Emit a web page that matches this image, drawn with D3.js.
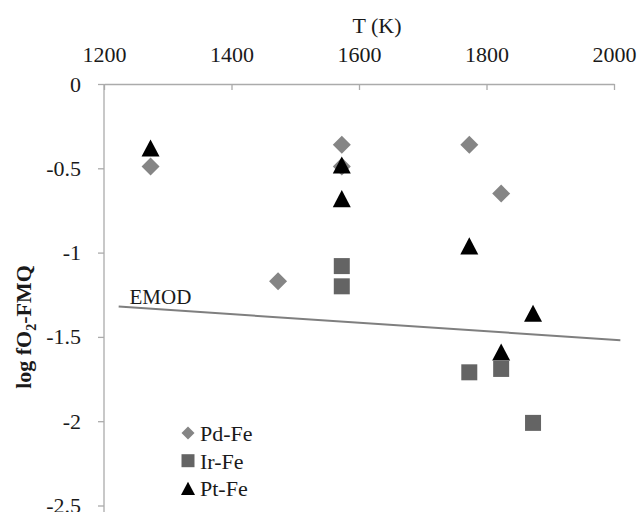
<!DOCTYPE html>
<html>
<head>
<meta charset="utf-8">
<script src="https://cdn.jsdelivr.net/npm/d3@7"></script>
<style>
  body { margin: 0; background: #fff; }
</style>
</head>
<body>
<div class="chart"></div>
<script>
// data
var pdT = [1273, 1573, 1573, 1473, 1773, 1823];
var pdY = [-0.49, -0.36, -0.49, -1.17, -0.36, -0.65];
var irT = [1573, 1573, 1773, 1823, 1873];
var irY = [-1.08, -1.2, -1.71, -1.69, -2.01];
var ptT = [1273, 1573, 1573, 1773, 1823, 1873];
var ptY = [-0.38, -0.48, -0.68, -0.96, -1.59, -1.36];
var emodT = [1223, 2010];
var emodY = [-1.32, -1.52];
var xTicks = [1200, 1400, 1600, 1800, 2000];
var yTicks = [0, -0.5, -1, -1.5, -2, -2.5];
var seriesNames = ["Pd-Fe", "Ir-Fe", "Pt-Fe"];

var svgWidth = 640;
var svgHeight = 512;
var serif = "'Liberation Serif', 'DejaVu Serif', 'Noto Serif', 'Times New Roman', serif";

var svg = d3.select(".chart")
  .append("svg")
  .attr("width", svgWidth)
  .attr("height", svgHeight)
  .attr("font-family", serif);

var xScale = d3.scaleLinear().domain([1200, 2000]).range([104, 614]);
var yScale = d3.scaleLinear().domain([0, -2.5]).range([84, 505.5]);

// marker shapes, size = half width
var diamond = { draw: function(c, r) { c.moveTo(0, -r); c.lineTo(r, 0); c.lineTo(0, r); c.lineTo(-r, 0); c.closePath(); } };
var square = { draw: function(c, r) { c.rect(-r, -r, 2 * r, 2 * r); } };
var triangle = { draw: function(c, r) { c.moveTo(0, -r * 0.95); c.lineTo(r, r * 0.95); c.lineTo(-r, r * 0.95); c.closePath(); } };

var series = [
  { name: seriesNames[0], t: pdT, y: pdY, type: diamond, size: 9, legSize: 6.5, color: "#858585" },
  { name: seriesNames[1], t: irT, y: irY, type: square, size: 8, legSize: 6.5, color: "#646464" },
  { name: seriesNames[2], t: ptT, y: ptY, type: triangle, size: 9, legSize: 7, color: "#000000" }
];

// axes
var xAxis = d3.axisTop(xScale)
  .tickValues(xTicks)
  .tickSizeInner(-6)
  .tickSizeOuter(0)
  .tickPadding(22)
  .tickFormat(d => String(d));

var yAxis = d3.axisLeft(yScale)
  .tickValues(yTicks)
  .tickSizeInner(6)
  .tickSizeOuter(0)
  .tickPadding(17)
  .tickFormat(d => String(d));

var gx = svg.append("g").attr("transform", "translate(0, 84)").call(xAxis);
var gy = svg.append("g").attr("transform", "translate(104, 0)").call(yAxis);

[gx, gy].forEach(function(g) {
  g.attr("font-family", serif).attr("font-size", 22);
  g.selectAll("path, line").attr("stroke", "#ababab").attr("stroke-width", 1.3);
  g.selectAll("text").attr("fill", "#1a1a1a");
});
gy.select(".domain").attr("d", "M0,84V512");

// EMOD line
var line = d3.line().x(d => xScale(d[0])).y(d => yScale(d[1]));
svg.append("path")
  .datum(d3.zip(emodT, emodY))
  .attr("d", line)
  .attr("fill", "none")
  .attr("stroke", "#7f7f7f")
  .attr("stroke-width", 2);

svg.append("text")
  .attr("x", xScale(1240))
  .attr("y", yScale(-1.305))
  .attr("font-size", 21)
  .attr("fill", "#1a1a1a")
  .text("EMOD");

// points
series.forEach(function(s) {
  var pts = d3.zip(s.t, s.y);
  svg.append("g").selectAll("path")
    .data(pts)
    .enter()
    .append("path")
    .attr("transform", d => `translate(${xScale(d[0])}, ${yScale(d[1])})`)
    .attr("d", d3.symbol().type(s.type).size(s.size))
    .attr("fill", s.color);
});

// legend
var legend = svg.append("g").attr("transform", "translate(188, 433)");
series.forEach(function(s, i) {
  legend.append("path")
    .attr("transform", `translate(0, ${i * 27.7})`)
    .attr("d", d3.symbol().type(s.type).size(s.legSize))
    .attr("fill", s.color);
  legend.append("text")
    .attr("x", 12)
    .attr("y", i * 27.7 + 8)
    .attr("font-size", 22)
    .attr("fill", "#1a1a1a")
    .text(s.name);
});

// axis titles
svg.append("text")
  .attr("x", 377)
  .attr("y", 33)
  .attr("text-anchor", "middle")
  .attr("font-size", 22)
  .attr("fill", "#1a1a1a")
  .text("T (K)");

var yLabel = svg.append("text")
  .attr("transform", "translate(31, 327) rotate(-90)")
  .attr("text-anchor", "middle")
  .attr("font-size", 22)
  .attr("font-weight", "bold")
  .attr("fill", "#1a1a1a");
yLabel.append("tspan").text("log fO");
yLabel.append("tspan").attr("dy", 5).attr("font-size", 14).text("2");
yLabel.append("tspan").attr("dy", -5).text("-FMQ");
</script>
</body>
</html>
